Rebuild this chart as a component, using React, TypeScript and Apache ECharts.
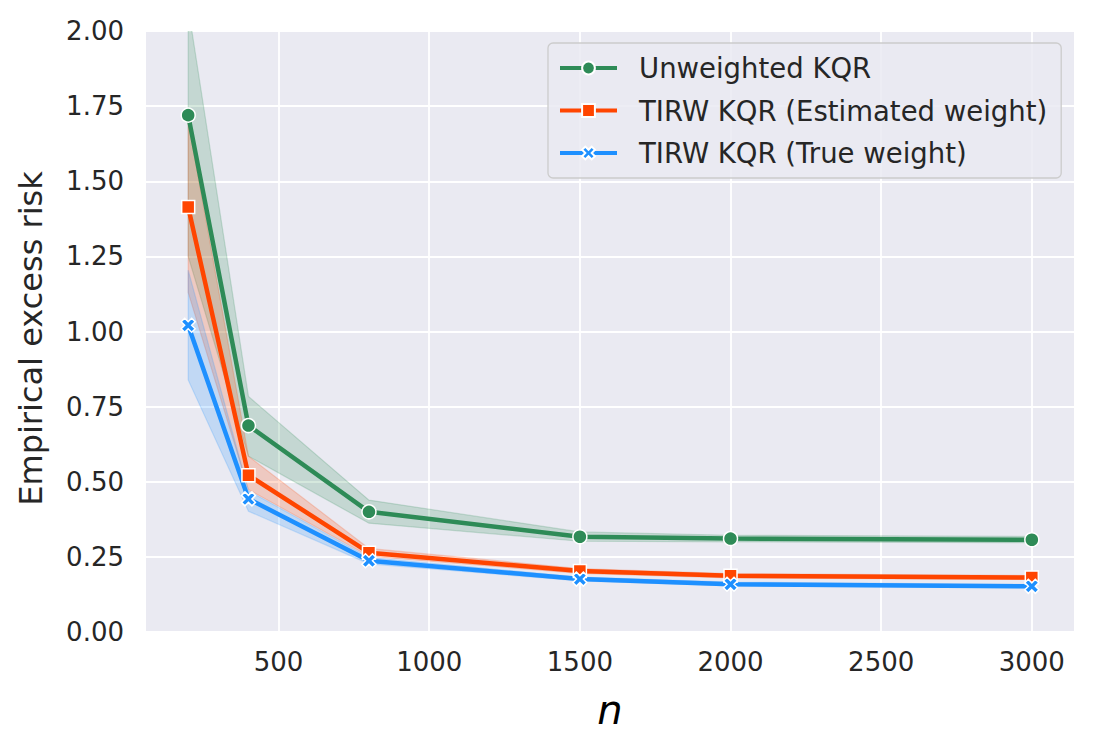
import React, { useEffect, useRef } from "react";
import * as echarts from "echarts";

const nValues = [200, 400, 800, 1500, 2000, 3000];

const unweighted = [1.72, 0.687, 0.4, 0.317, 0.311, 0.307];
const unweightedLo = [1.25, 0.585, 0.362, 0.302, 0.3, 0.297];
const unweightedHi = [2.08, 0.784, 0.439, 0.333, 0.322, 0.318];

const estimated = [1.414, 0.522, 0.264, 0.203, 0.187, 0.181];
const estimatedLo = [1.13, 0.474, 0.252, 0.195, 0.18, 0.175];
const estimatedHi = [1.7, 0.585, 0.278, 0.211, 0.194, 0.188];

const trueW = [1.021, 0.443, 0.237, 0.176, 0.159, 0.152];
const trueLo = [0.839, 0.402, 0.227, 0.17, 0.153, 0.147];
const trueHi = [1.204, 0.47, 0.248, 0.183, 0.166, 0.158];

const xTicks = [500, 1000, 1500, 2000, 2500, 3000];
const seriesNames = [
  "Unweighted KQR",
  "TIRW KQR (Estimated weight)",
  "TIRW KQR (True weight)",
];

const FONT = "DejaVu Sans";
const TEXT = "#262626";
const X_PATH =
  "path://M2,0 L4,2 L6,0 L8,2 L6,4 L8,6 L6,8 L4,6 L2,8 L0,6 L2,4 L0,2 Z";

function pairs(xs: number[], ys: number[]) {
  return xs.map((x, i) => [x, ys[i]]);
}

function band(lo: number[], hi: number[], rgb: string): any {
  return {
    type: "custom",
    silent: true,
    z: 1,
    data: nValues.map((x, i) => [x, lo[i], hi[i]]),
    encode: { x: 0, y: [1, 2] },
    renderItem: (params: any, api: any) => {
      if (params.dataIndex !== 0) return null;
      const upper = nValues.map((x, i) => api.coord([x, hi[i]]));
      const lower = nValues.map((x, i) => api.coord([x, lo[i]])).reverse();
      const cs = params.coordSys;
      return {
        type: "polygon",
        shape: { points: upper.concat(lower) },
        style: {
          fill: `rgba(${rgb},0.2)`,
          stroke: `rgba(${rgb},0.2)`,
          lineWidth: 1.2,
        },
        clipPath: {
          type: "rect",
          shape: { x: cs.x, y: cs.y, width: cs.width, height: cs.height },
        },
      };
    },
  };
}

function mainLine(
  name: string,
  ys: number[],
  color: string,
  symbol: string,
  size: number
) {
  return {
    name,
    type: "line",
    data: pairs(nValues, ys),
    symbol,
    symbolSize: size,
    showAllSymbol: true,
    lineStyle: { width: 4.5, color },
    itemStyle: { color, borderColor: "#ffffff", borderWidth: 1.5 },
    z: 3,
  };
}

export default function App() {
  const ref = useRef<HTMLDivElement>(null);

  useEffect(() => {
    if (!ref.current) return;
    const chart = echarts.init(ref.current, undefined, { renderer: "svg" });
    const option: any = {
      animation: false,
      backgroundColor: "#ffffff",
      grid: {
        left: 146,
        right: 21,
        top: 31,
        bottom: 121,
        show: true,
        backgroundColor: "#EAEAF2",
        borderWidth: 0,
      },
      legend: {
        data: seriesNames,
        orient: "vertical",
        left: 548,
        top: 43,
        padding: [10, 14, 10, 10],
        itemWidth: 57,
        itemHeight: 16,
        itemGap: 12.5,
        lineStyle: { width: 4 },
        backgroundColor: "rgba(234,234,242,0.85)",
        borderColor: "#CCCCCC",
        borderWidth: 1.3,
        borderRadius: 5,
        textStyle: {
          fontFamily: FONT,
          fontSize: 27.5,
          color: TEXT,
          lineHeight: 30,
          padding: [0, 0, 0, 17],
        },
      },
      xAxis: {
        type: "value",
        min: 60,
        max: 3140,
        name: "n",
        nameLocation: "middle",
        nameGap: 58,
        nameTextStyle: {
          fontFamily: FONT,
          fontStyle: "italic",
          fontSize: 40,
          color: "#000000",
        },
        axisLine: { show: false },
        axisTick: { show: false, customValues: xTicks },
        axisLabel: {
          customValues: xTicks,
          fontFamily: FONT,
          fontSize: 26,
          color: TEXT,
          margin: 17,
          formatter: (v: number) => String(v),
        },
        splitLine: { show: true, lineStyle: { color: "#ffffff", width: 1.8 } },
      },
      yAxis: {
        type: "value",
        min: 0,
        max: 2,
        interval: 0.25,
        name: "Empirical excess risk",
        nameLocation: "middle",
        nameGap: 99,
        nameTextStyle: {
          fontFamily: FONT,
          fontSize: 32,
          color: TEXT,
          padding: [0, 14, 0, 0],
        },
        axisLine: { show: false },
        axisTick: { show: false },
        axisLabel: {
          fontFamily: FONT,
          fontSize: 26,
          color: TEXT,
          margin: 22,
          formatter: (v: number) => v.toFixed(2),
        },
        splitLine: { show: true, lineStyle: { color: "#ffffff", width: 1.8 } },
      },
      series: [
        band(unweightedLo, unweightedHi, "46,139,87"),
        band(estimatedLo, estimatedHi, "255,69,0"),
        band(trueLo, trueHi, "30,144,255"),
        mainLine(seriesNames[0], unweighted, "#2E8B57", "circle", 14),
        mainLine(seriesNames[1], estimated, "#FF4500", "rect", 13),
        mainLine(seriesNames[2], trueW, "#1E90FF", X_PATH, 14),
      ],
    };
    chart.setOption(option);
    return () => chart.dispose();
  }, []);

  return (
    <div
      ref={ref}
      style={{
        position: "fixed",
        left: 0,
        top: 0,
        width: 1095,
        height: 753,
      }}
    />
  );
}
